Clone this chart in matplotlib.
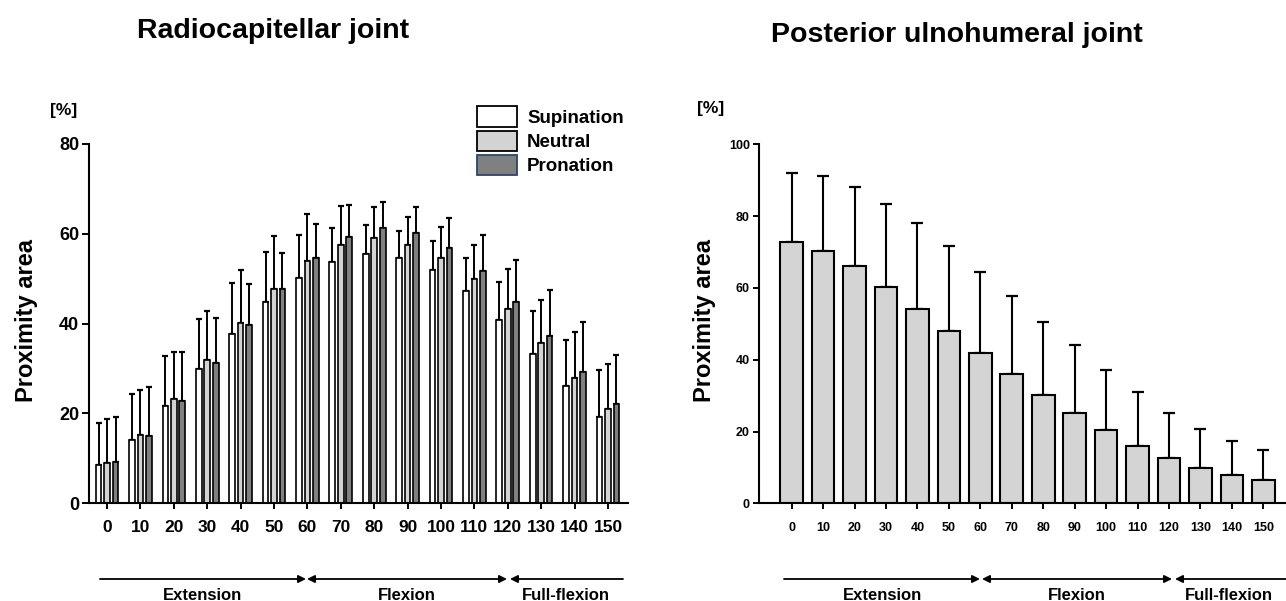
import matplotlib
matplotlib.use("Agg")
import matplotlib.pyplot as plt
from matplotlib.patches import Patch
import numpy as np

plt.rcParams['font.family'] = ['Liberation Sans', 'DejaVu Sans']
plt.rcParams['font.weight'] = 'bold'

# ---------------- data ----------------
angles = [0, 10, 20, 30, 40, 50, 60, 70, 80, 90, 100, 110, 120, 130, 140, 150]
angle_labels = [str(a) for a in angles]

# Radiocapitellar joint (mean, SD)
sup_mean = [8.5, 14.1, 21.6, 29.8, 37.6, 44.7, 50.2, 53.6, 55.4, 54.5, 51.9, 47.2, 40.7, 33.2, 26.1, 19.2]
sup_sd = [9.3, 10.2, 11.1, 11.3, 11.4, 11.2, 9.6, 7.7, 6.5, 6.1, 6.4, 7.4, 8.5, 9.6, 10.2, 10.5]
neu_mean = [8.9, 15.2, 23.2, 31.8, 40.2, 47.7, 53.9, 57.6, 59.0, 57.5, 54.7, 49.9, 43.2, 35.6, 27.9, 20.9]
neu_sd = [9.8, 9.9, 10.4, 11.0, 11.7, 11.8, 10.5, 8.6, 7.0, 6.3, 6.7, 7.7, 8.9, 9.6, 10.3, 10.1]
pro_mean = [9.1, 14.9, 22.8, 31.1, 39.6, 47.6, 54.6, 59.3, 61.2, 60.1, 56.9, 51.8, 44.8, 37.2, 29.3, 22.1]
pro_sd = [10.1, 11.0, 10.8, 10.2, 9.2, 8.2, 7.6, 7.1, 5.9, 5.8, 6.5, 7.9, 9.3, 10.2, 11.0, 10.9]

# Posterior ulnohumeral joint (mean, SD)
pu_mean = [72.7, 70.3, 66.1, 60.3, 54.1, 48.0, 41.8, 36.0, 30.1, 25.1, 20.4, 16.0, 12.5, 9.8, 7.9, 6.4]
pu_sd = [19.3, 20.8, 22.1, 23.1, 24.1, 23.8, 22.6, 21.8, 20.4, 18.9, 16.8, 15.0, 12.7, 11.0, 9.5, 8.4]

series_names = ['Supination', 'Neutral', 'Pronation']
phase_names = ['Extension', 'Flexion', 'Full-flexion']

# ---------------- figure ----------------
W, H = 1286, 601
fig = plt.figure(figsize=(W / 100, H / 100), dpi=100)

ax1 = fig.add_axes([89 / W, 1 - 503 / H, (628 - 89) / W, (503 - 144) / H])
ax2 = fig.add_axes([759 / W, 1 - 503.3 / H, (1286 - 759) / W, (503.3 - 144.3) / H])

idx = np.arange(len(angles))
fills = ['white', '#d3d3d3', '#808080']
edges = ['black', 'black', '#2b4566']
means = [sup_mean, neu_mean, pro_mean]
sds = [sup_sd, neu_sd, pro_sd]
offs = [-0.254, 0.0, 0.254]
bw = 0.17
for m, s, o, fc, ec in zip(means, sds, offs, fills, edges):
    x = idx + o
    ax1.errorbar(x, m, yerr=[np.zeros(len(m)), s], fmt='none', ecolor='black',
                 elinewidth=1.4, capsize=1.9, capthick=1.6, zorder=1)
    ax1.bar(x, m, width=bw, color=fc, edgecolor='black', linewidth=1.2, zorder=2)

ax1.set_ylim(0, 80)
ax1.set_xlim(-0.54, 15.6)
ax1.set_yticks([0, 20, 40, 60, 80])
ax1.set_xticks(idx, angle_labels)
ax1.tick_params(axis='y', labelsize=13, length=5, width=1.4, pad=2)
ax1.tick_params(axis='x', labelsize=12.5, length=4.3, width=1.4, pad=8)

ax2.errorbar(idx, pu_mean, yerr=[np.zeros(len(pu_mean)), pu_sd], fmt='none',
             ecolor='black', elinewidth=1.5, capsize=4.3, capthick=1.6, zorder=1)
ax2.bar(idx, pu_mean, width=0.72, color='#d4d4d4', edgecolor='black', linewidth=1.5, zorder=2)
ax2.set_ylim(0, 100)
ax2.set_xlim(-1.04, 15.72)
ax2.set_yticks([0, 20, 40, 60, 80, 100])
ax2.set_xticks(idx, angle_labels)
ax2.tick_params(axis='y', labelsize=9, length=4.5, width=1.4, pad=2)
ax2.tick_params(axis='x', labelsize=9, length=4.3, width=1.4, pad=9)

for ax in (ax1, ax2):
    for sp in ('top', 'right'):
        ax.spines[sp].set_visible(False)
    for sp in ('left', 'bottom'):
        ax.spines[sp].set_linewidth(1.5)
    for lab in ax.get_xticklabels() + ax.get_yticklabels():
        lab.set_fontweight('bold')

# legend
handles = [Patch(facecolor=fc, edgecolor=ec, linewidth=1.3, label=n)
           for fc, ec, n in zip(fills, edges, series_names)]
fig.legend(handles=handles, loc='upper left', bbox_to_anchor=(468 / W, 1 - 97 / H),
           bbox_transform=fig.transFigure, frameon=False, borderpad=0,
           handlelength=2.1, handleheight=1.3, labelspacing=0.2, handletextpad=0.55,
           prop={'size': 13.5, 'weight': 'bold'})

# titles
fig.text(273 / W, 1 - 38 / H, 'Radiocapitellar joint', ha='center', va='baseline',
         fontsize=20.5, fontweight='bold')
fig.text(957 / W, 1 - 42 / H, 'Posterior ulnohumeral joint', ha='center', va='baseline',
         fontsize=20.5, fontweight='bold')

# units
fig.text(50 / W, 1 - 115 / H, '[%]', ha='left', va='baseline', fontsize=12.5, fontweight='bold')
fig.text(697 / W, 1 - 113 / H, '[%]', ha='left', va='baseline', fontsize=12.5, fontweight='bold')

# y labels
fig.text(27 / W, 1 - 321 / H, 'Proximity area', rotation=90, ha='center', va='center',
         fontsize=17, fontweight='bold')
fig.text(704 / W, 1 - 321 / H, 'Proximity area', rotation=90, ha='center', va='center',
         fontsize=17, fontweight='bold')

# phase arrows
def arrow(x0, x1, style):
    fig.add_artist(matplotlib.patches.FancyArrowPatch(
        (x0 / W, 1 - 579 / H), (x1 / W, 1 - 579 / H), transform=fig.transFigure,
        arrowstyle=style, mutation_scale=11, linewidth=1.3, color='black',
        shrinkA=0, shrinkB=0))

for (x0, x1, st) in [(100, 306, '-|>'), (307, 507, '<|-|>'), (510, 623, '<|-'),
                     (784, 980, '-|>'), (982, 1172, '<|-|>'), (1175, 1286, '<|-')]:
    arrow(x0, x1, st)

for cx, name in zip([203, 407, 566], phase_names):
    fig.text(cx / W, 1 - 588 / H, name, ha='center', va='top', fontsize=12, fontweight='bold')
for cx, name in zip([882, 1077, 1229], phase_names):
    fig.text(cx / W, 1 - 588 / H, name, ha='center', va='top', fontsize=12, fontweight='bold')

fig.savefig('out.png', dpi=100)
